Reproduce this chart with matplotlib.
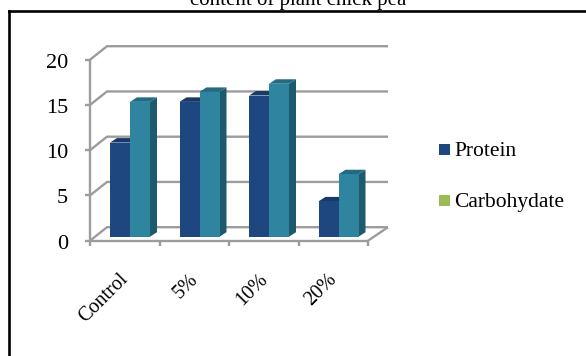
import matplotlib
matplotlib.use("Agg")
import matplotlib.pyplot as plt
from matplotlib.lines import Line2D
from matplotlib.patches import Polygon, Rectangle

categories = ["Control", "5%", "10%", "20%"]
protein = [10.4, 14.9, 15.6, 3.9]
carbohydrate = [14.9, 16.0, 16.9, 6.9]
y_ticks = [0, 5, 10, 15, 20]

W, H = 586, 356
plt.rcParams["font.family"] = ["Liberation Serif", "DejaVu Serif"]
fig = plt.figure(figsize=(W / 100, H / 100), dpi=100)
fig.patch.set_facecolor("white")

# Frame: a top rule and a left rule only
fig.add_artist(Line2D([8.5 / W, 1], [1 - 10.5 / H] * 2, transform=fig.transFigure, color="black", linewidth=1.9))
fig.add_artist(Line2D([8.5 / W] * 2, [0, 1 - 10.5 / H], transform=fig.transFigure, color="black", linewidth=1.9))
fig.text(298 / W, 1 - 5 / H, "content of plant chick pea", ha="center", va="baseline",
         fontsize=15, color="black")

# Front plane of the plot box, mapped onto figure pixels
left, right, base, top = 90, 368, 240.7, 59.7
ax = fig.add_axes([left / W, 1 - base / H, (right - left) / W, (base - top) / H])
ax.set_xlim(0, 4)
ax.set_ylim(0, 20)
ax.axis("off")

px_x = 4 / (right - left)
px_y = 20 / (base - top)
GREY = "#9c9c9c"
wall_dx, wall_dy = 17 * px_x, 13.5 * px_y
far_dx = 20 * px_x


def line(xs, ys, **kw):
    ax.plot(xs, ys, color=GREY, linewidth=1.7, clip_on=False, solid_capstyle="butt", **kw)


# Back-wall gridlines, side-wall diagonals and the floor edge
for t in y_ticks:
    line([0, wall_dx, 4 + far_dx], [t, t + wall_dy, t + wall_dy])
line([0, 0], [0, 20])
line([0, 4], [0, 0])
line([4, 4 + far_dx], [0, wall_dy])

# Tick stubs along both front axes
for t in y_ticks:
    line([-5 * px_x, 0], [t, t])
for i in range(len(categories) + 1):
    line([i, i], [0, -5 * px_y])

BLUE, BLUE_TOP, BLUE_SIDE = "#1f477f", "#173a6b", "#163560"
TEAL, TEAL_TOP, TEAL_SIDE = "#2f84a0", "#236b82", "#1d5a6e"
bar_w = 20 * px_x
depth_x, depth_y = 7 * px_x, 4.5 * px_y
lift = 4 * px_y
shift = 20 * px_x


def bar3d(x0, value, front, top_c, side):
    x1 = x0 + bar_w
    y0, y1 = lift, value + lift
    ax.add_patch(Polygon([(x1, y0), (x1 + depth_x, y0 + depth_y), (x1 + depth_x, y1 + depth_y), (x1, y1)],
                         facecolor=side, edgecolor="none", clip_on=False, zorder=3))
    ax.add_patch(Polygon([(x0, y1), (x1, y1), (x1 + depth_x, y1 + depth_y), (x0 + depth_x, y1 + depth_y)],
                         facecolor=top_c, edgecolor="none", clip_on=False, zorder=3))
    ax.bar(x0, value, bar_w, bottom=lift, align="edge", color=front, zorder=4, clip_on=False)


for i, (p, c) in enumerate(zip(protein, carbohydrate)):
    start = i + shift
    bar3d(start + bar_w, c, TEAL, TEAL_TOP, TEAL_SIDE)
    bar3d(start, p, BLUE, BLUE_TOP, BLUE_SIDE)

# Axis labels
for t in y_ticks:
    ax.text(-22 * px_x, t - 3.5 * px_y, str(t), ha="right", va="center", fontsize=16, color="black", clip_on=False)
for i, name in enumerate(categories):
    ax.text(i + 0.62 - 14 * px_x, -29 * px_y, name, rotation=45, rotation_mode="anchor", ha="right", va="top",
            fontsize=14.5, color="black", clip_on=False)

# Legend
for y, colour, label in [(149.5, BLUE, "Protein"), (200.5, "#9bbb59", "Carbohydate")]:
    fig.add_artist(Rectangle((439 / W, 1 - (y + 5.5) / H), 11 / W, 11 / H, transform=fig.transFigure,
                             facecolor=colour, edgecolor="none"))
    fig.text(454.5 / W, 1 - (y + 1.5) / H, label, ha="left", va="center", fontsize=15.5, color="black")

fig.savefig("out.png", dpi=100)
